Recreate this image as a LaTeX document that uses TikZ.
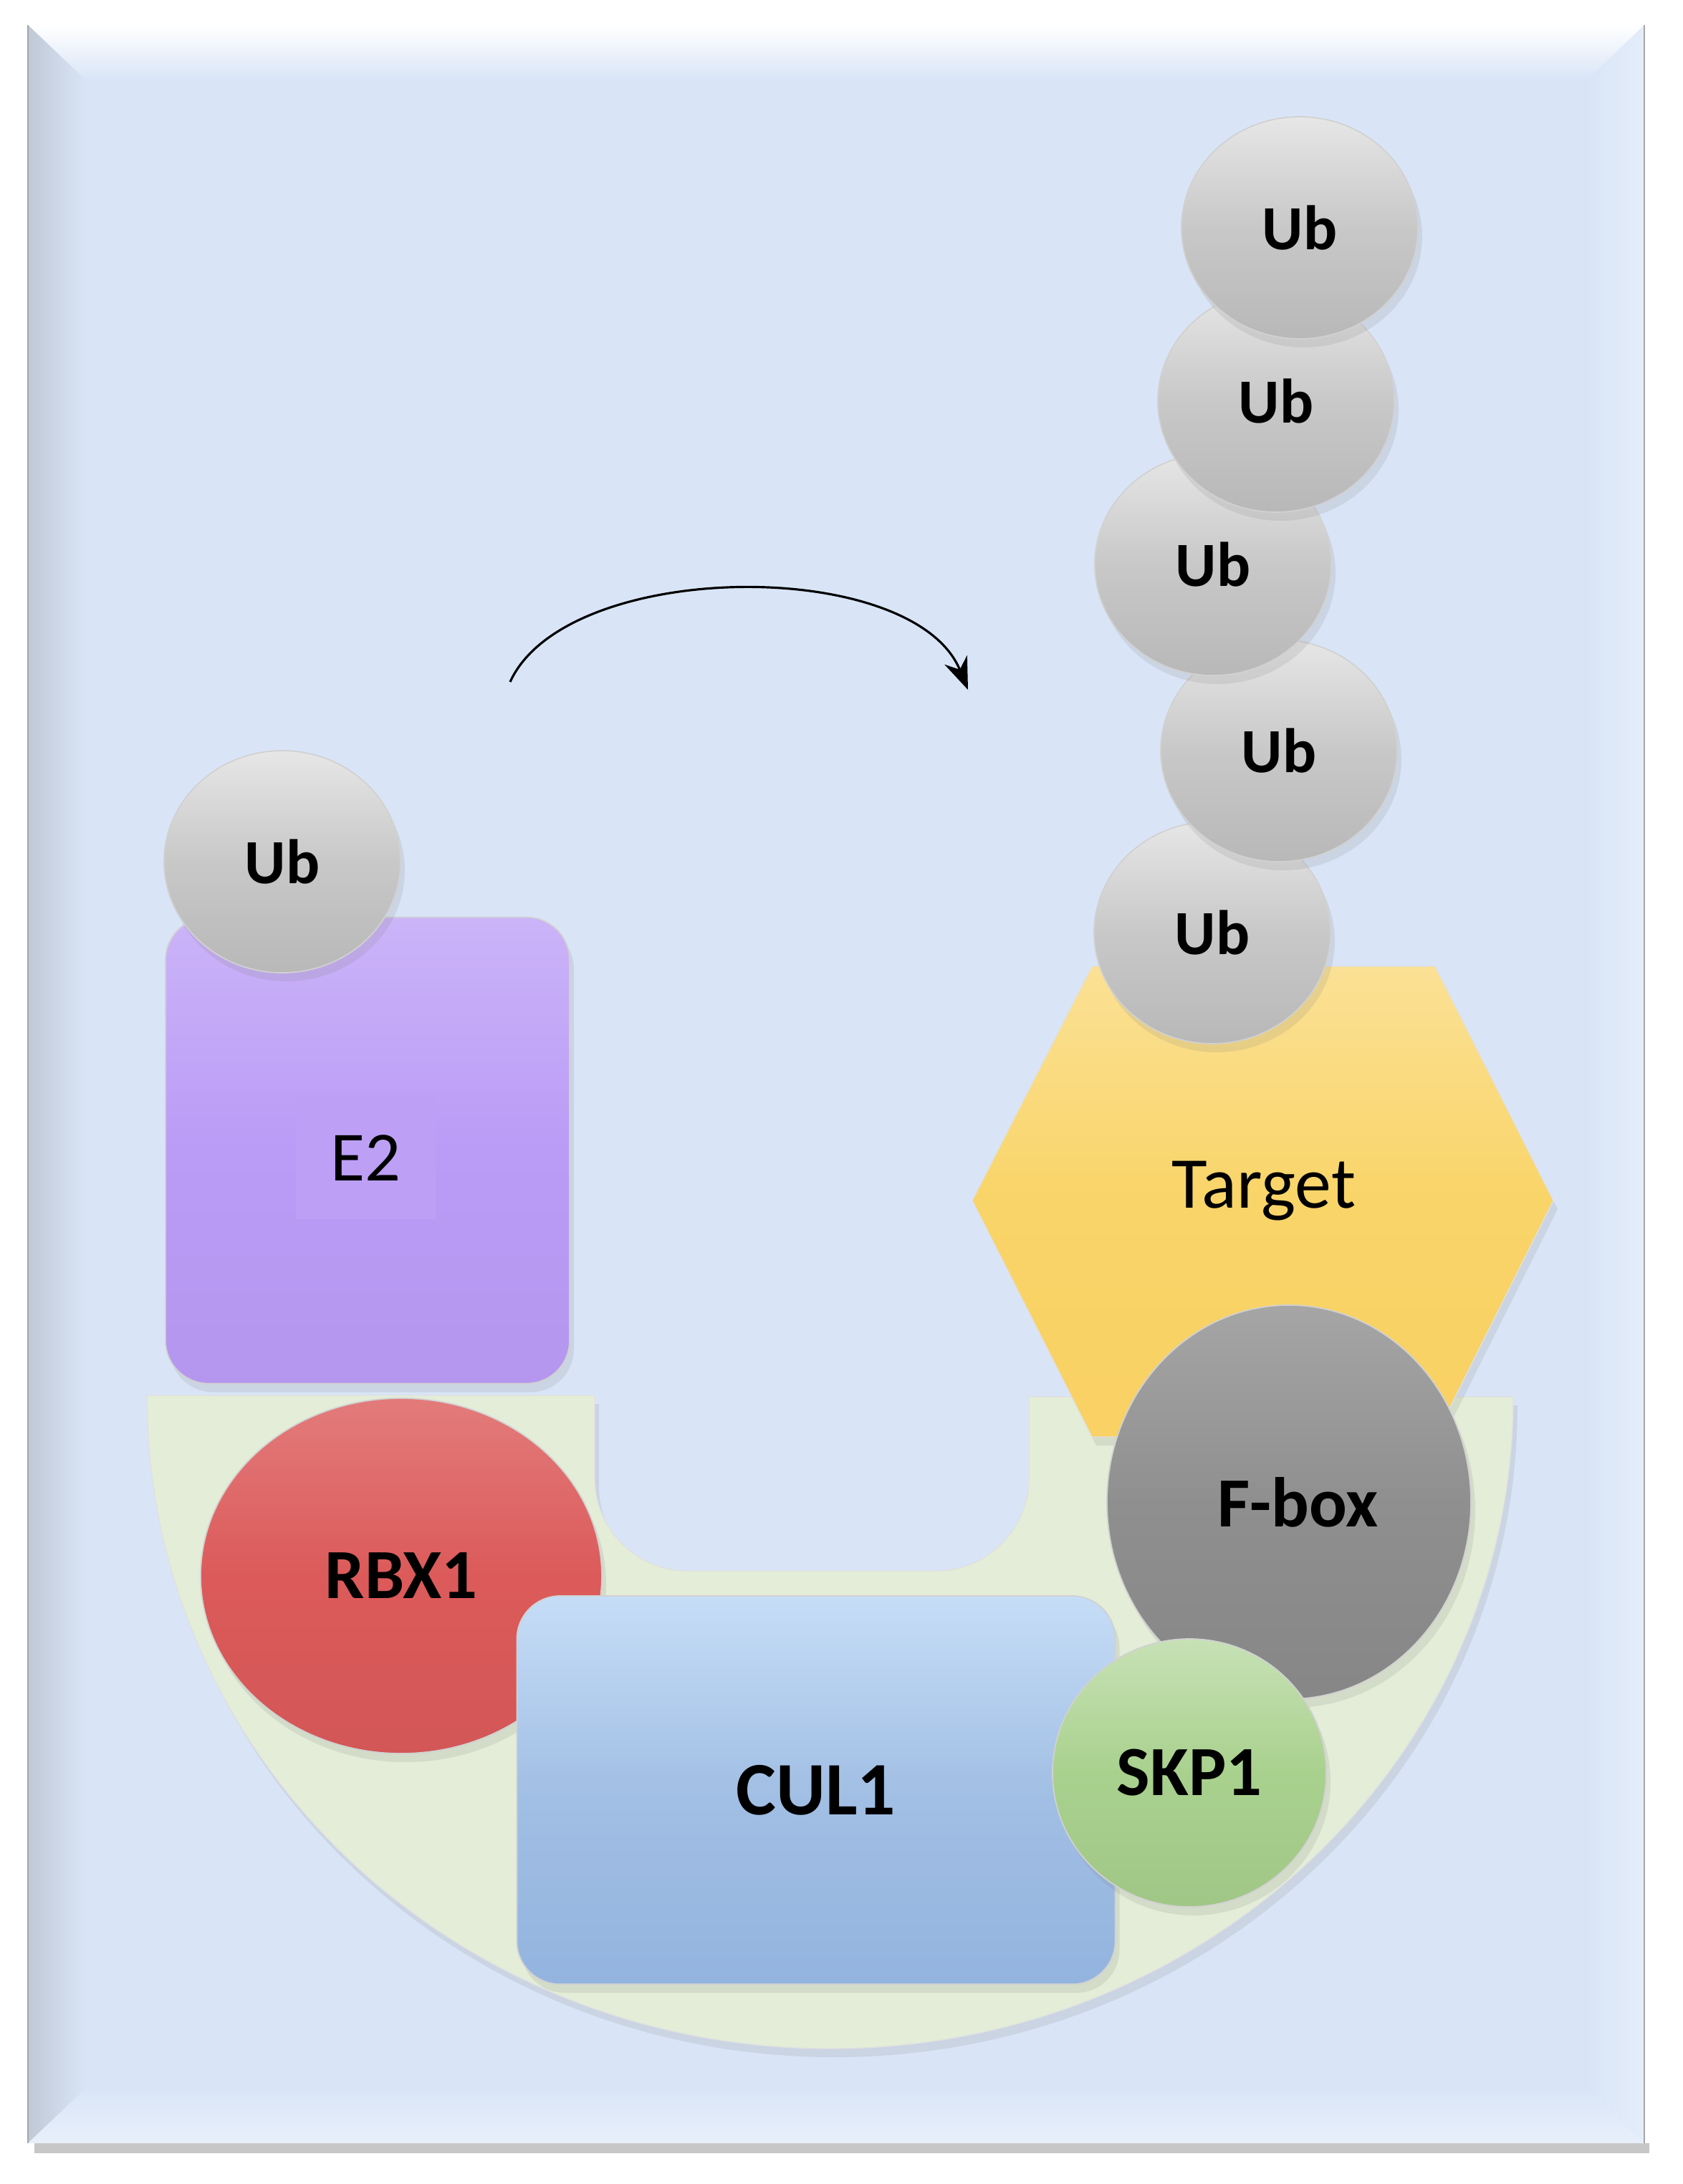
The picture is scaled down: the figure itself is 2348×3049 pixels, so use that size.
\documentclass[tikz,border=0pt]{standalone}
\usepackage{fontspec}
\setmainfont{Carlito}
\usepackage{tikz}
\usetikzlibrary{arrows.meta,shapes,positioning,shadows}

\definecolor{panelblue}{HTML}{D9E5F7}
\definecolor{cradlegreen}{HTML}{E3EDD8}
\definecolor{e2purple}{HTML}{BA9BF6}
\definecolor{ubgrey}{HTML}{C8C8C8}
\definecolor{targetyellow}{HTML}{F9D468}
\definecolor{fboxgrey}{HTML}{8F8F8F}
\definecolor{rbxred}{HTML}{DC5A5A}
\definecolor{culblue}{HTML}{A2BFE4}
\definecolor{cultop}{HTML}{C6DDF7}
\definecolor{culbottom}{HTML}{93B4DF}
\definecolor{skpgreen}{HTML}{A9D18E}

\tikzset{
  x=0.1mm, y=-0.1mm,
  softshadow/.style={drop shadow={opacity=0.16, shadow xshift=0.6mm, shadow yshift=-1.2mm}},
  protein/.style={softshadow, draw=black!18, line width=0.5pt, inner sep=0pt},
  ub/.style={protein, ellipse, minimum width=33mm, minimum height=31mm,
    top color=ubgrey!45!white, bottom color=ubgrey!92!black, middle color=ubgrey,
    font=\bfseries\fontsize{25}{25}\selectfont},
  blob/.style={protein, ellipse, font=\bfseries\fontsize{28}{28}\selectfont},
  box/.style={protein, rectangle, rounded corners=6mm},
}

\begin{document}
\begin{tikzpicture}
    \useasboundingbox (0,0) rectangle (2348,3049);
    \fill[white] (0,0) rectangle (2348,3049);

    % panel
    \fill[black!22] (48,2992) rectangle (2302,3006);
    \fill[panelblue] (39,35) rectangle (2295,2992);
    \shade[top color=white, bottom color=panelblue] (39,35) -- (2295,35) -- (2215,112) -- (120,112) -- cycle;
    \shade[left color=panelblue!72!gray, right color=panelblue] (39,35) -- (120,112) -- (120,2915) -- (39,2992) -- cycle;
    \shade[left color=panelblue, right color=panelblue!70!white] (2295,35) -- (2215,112) -- (2215,2915) -- (2295,2992) -- cycle;
    \shade[top color=panelblue, bottom color=panelblue!60!white] (39,2992) -- (120,2915) -- (2215,2915) -- (2295,2992) -- cycle;
    \draw[black!35, line width=0.8pt] (39,35) -- (39,2992) (2295,35) -- (2295,2992);

    % cradle
    \fill[cradlegreen, softshadow, draw=black!12]
        (205,1948) -- (830,1948) -- (830,2063)
        arc[start angle=180, end angle=270, radius=13mm] -- (1306,2193)
        arc[start angle=270, end angle=360, radius=13mm] -- (1436,1950) -- (2112,1950)
        arc[start angle=0, end angle=-180, x radius=95.35mm, y radius=91mm] -- cycle;

    % E2 with Ub
    \node[box, minimum width=56.4mm, minimum height=65.1mm,
          top color=e2purple!75!white, bottom color=e2purple!97!black, middle color=e2purple] (e2) at (513,1606) {};
    \node[fill=e2purple!95!white, minimum width=19.5mm, minimum height=17mm,
          font=\fontsize{28}{28}\selectfont] (e2lab) at (510,1617) {E2};
    \node[ub] (ub0) at (394,1203) {Ub};

    \coordinate (arrstart) at (712,952);
    \coordinate (arrend) at (1351,963);
    \draw[line width=0.9pt, -{Stealth[length=4.5mm, width=3.4mm]}] (arrstart) .. controls (790,780) and (1275,776) .. (arrend);

    % target with chain
    \coordinate (hl) at (1357,1676);
    \coordinate (htl) at (1524,1349);
    \coordinate (htr) at (2003,1349);
    \coordinate (hr) at (2168,1676);
    \coordinate (hbr) at (2003,2006);
    \coordinate (hbl) at (1524,2006);
    \path[softshadow, draw=black!12, top color=targetyellow!70!white, bottom color=targetyellow!96!orange, middle color=targetyellow]
        (hl) -- (htl) -- (htr) -- (hr) -- (hbr) -- (hbl) -- cycle;
    \node[font=\fontsize{29}{29}\selectfont] (target) at (1764,1663) {Target};

    \node[ub] (ub5) at (1692,1302) {Ub};
    \node[ub] (ub4) at (1785,1048) {Ub};
    \node[ub] (ub3) at (1693,788) {Ub};
    \node[ub] (ub2) at (1781,560) {Ub};
    \node[ub] (ub1) at (1814,318) {Ub};

    % complex
    \node[blob, minimum width=56mm, minimum height=49.6mm,
          top color=rbxred!80!white, bottom color=rbxred!96!black, middle color=rbxred] (rbx) at (560,2200) {RBX1};
    \node[box, minimum width=83.5mm, minimum height=54.2mm,
          top color=cultop, bottom color=culbottom, middle color=culblue,
          font=\bfseries\fontsize{30}{30}\selectfont] (cul) at (1139,2499) {CUL1};
    \node[blob, minimum width=50.8mm, minimum height=55mm,
          top color=fboxgrey!80!white, bottom color=fboxgrey!94!black, middle color=fboxgrey] (fbox) at (1799,2097) {\hspace*{2.5mm}F-box};
    \node[blob, minimum width=38.2mm, minimum height=37.4mm,
          top color=skpgreen!65!white, bottom color=skpgreen!95!black, middle color=skpgreen] (skp) at (1660,2475) {SKP1};
\end{tikzpicture}
\end{document}
